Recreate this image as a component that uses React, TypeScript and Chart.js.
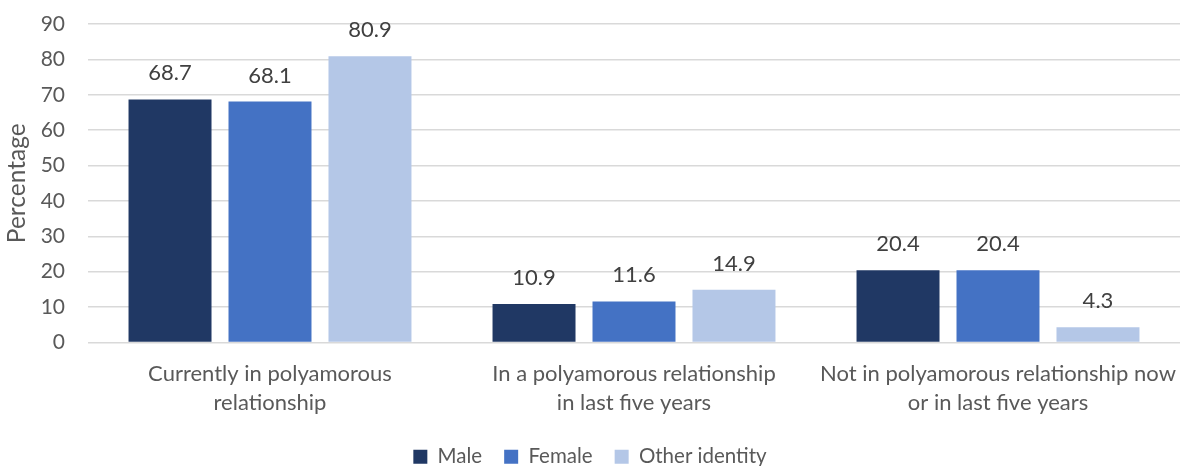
import React, { useEffect, useRef } from "react";
import { Chart, registerables } from "chart.js";

Chart.register(...registerables);

const categories: string[][] = [
  ["Currently in polyamorous", "relationship"],
  ["In a polyamorous relationship", "in last five years"],
  ["Not in polyamorous relationship now", "or in last five years"],
];
const seriesNames = ["Male", "Female", "Other identity"];
const maleValues = [68.7, 10.9, 20.4];
const femaleValues = [68.1, 11.6, 20.4];
const otherValues = [80.9, 14.9, 4.3];
const seriesColors = ["#203864", "#4472C4", "#B4C7E7"];
const yTickMax = 90;
const yTickStep = 10;

const FONT = "Lato, 'Liberation Sans', sans-serif";
const TEXT = "#595959";

const valueLabels = {
  id: "valueLabels",
  afterDatasetsDraw(chart: any) {
    const ctx = chart.ctx;
    ctx.save();
    ctx.font = `22px ${FONT}`;
    ctx.fillStyle = "#404040";
    ctx.textAlign = "center";
    ctx.textBaseline = "alphabetic";
    chart.data.datasets.forEach((ds: any, i: number) => {
      const meta = chart.getDatasetMeta(i);
      meta.data.forEach((bar: any, j: number) => {
        ctx.fillText(Number(ds.data[j]).toFixed(1), bar.x, bar.y - 19);
      });
    });
    ctx.restore();
  },
};

export default function App() {
  const ref = useRef<HTMLCanvasElement | null>(null);
  useEffect(() => {
    if (!ref.current) return;
    const chart = new Chart(ref.current, {
      type: "bar",
      data: {
        labels: categories,
        datasets: [maleValues, femaleValues, otherValues].map((d, i) => ({
          label: seriesNames[i],
          data: d,
          backgroundColor: seriesColors[i],
          barPercentage: 0.83,
          categoryPercentage: 0.824,
        })),
      },
      options: {
        animation: false,
        responsive: false,
        maintainAspectRatio: false,
        layout: { padding: { top: 24, right: 5, left: 0, bottom: -11 } },
        plugins: {
          tooltip: { enabled: false },
          legend: {
            position: "bottom",
            labels: {
              boxWidth: 14,
              boxHeight: 14,
              padding: 22,
              color: TEXT,
              font: { family: FONT, size: 20.5 },
            },
          },
        },
        scales: {
          x: {
            grid: { display: false },
            border: { display: false },
            ticks: {
              color: TEXT,
              padding: 8,
              maxRotation: 0,
              autoSkip: false,
              font: { family: FONT, size: 22, lineHeight: 1.36 },
            },
            afterFit: (s: any) => {
              s.height = 82;
            },
          },
          y: {
            min: 0,
            max: yTickMax,
            ticks: {
              stepSize: yTickStep,
              color: TEXT,
              padding: 2,
              font: { family: FONT, size: 21 },
            },
            grid: {
              color: "#D9D9D9",
              lineWidth: 1.5,
              drawTicks: true,
              tickLength: 21,
              tickColor: "rgba(0,0,0,0)",
            },
            border: { display: false },
            title: {
              display: true,
              text: "Percentage",
              color: TEXT,
              padding: { top: 2, bottom: 0 },
              font: { family: FONT, size: 24.5 },
            },
            afterFit: (s: any) => {
              s.width = 88;
            },
          },
        },
      },
      plugins: [valueLabels],
    });
    return () => chart.destroy();
  }, []);
  return (
    <div style={{ position: "absolute", left: 0, top: 0, width: 1185, height: 466, background: "#fff" }}>
      <canvas ref={ref} width={1185} height={466} />
    </div>
  );
}
